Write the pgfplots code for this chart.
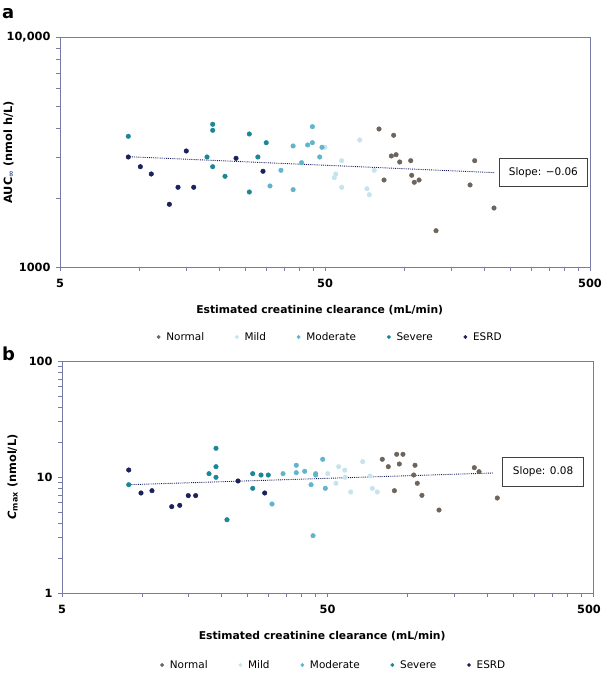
\documentclass[border=0pt]{standalone}
\usepackage{fontspec}
\setmainfont{DejaVu Sans}
\usepackage{pgfplots}
\pgfplotsset{compat=1.18}
\definecolor{axc}{RGB}{118,124,165}
\definecolor{cnorm}{RGB}{110,100,92}
\definecolor{cmild}{RGB}{198,228,238}
\definecolor{cmod}{RGB}{96,180,204}
\definecolor{csev}{RGB}{26,134,150}
\definecolor{cesrd}{RGB}{28,32,92}
\definecolor{cinf}{RGB}{60,80,150}
\newcommand{\lblfont}{\fontsize{11.4}{13.5}\selectfont\bfseries}
\newcommand{\xlblfont}{\fontsize{10.8}{13}\selectfont\bfseries}
\newcommand{\txtfont}{\fontsize{10.5}{12.6}\selectfont}
\begin{document}
\begin{tikzpicture}[x=1bp,y=1bp,font=\txtfont]
\useasboundingbox (0,0) rectangle (602,673);
\node[anchor=base west, font=\bfseries\fontsize{18}{20}\selectfont, inner sep=0] at (2,654) {a};
\node[anchor=base west, font=\bfseries\fontsize{18}{20}\selectfont, inner sep=0] at (2,312) {b};

% ---------------- panel a ----------------
\begin{axis}[at={(60bp,406bp)}, anchor=south west, width=530bp, height=229.5bp,
  scale only axis, xmode=log, ymode=log, xmin=5, xmax=500,
  axis line style={axc, line width=0.9pt},
  xtick={5,50,500}, xticklabels={5,50,500},
  minor xtick={10,15,20,25,30,35,40,45,100,150,200,250,300,350,400,450},
  tick style={axc, line width=0.7pt}, tick align=outside,
  xtick pos=bottom, ytick pos=left,
  major tick length=4bp, minor tick length=4bp,
  ticklabel style={font=\lblfont},
  yticklabel style={xshift=-2bp},
  xticklabel style={yshift=-5bp},
  xlabel={Estimated creatinine clearance (mL/min)},
  xlabel style={font=\xlblfont, at={(axis description cs:0.49,0)}, anchor=center, yshift=-43bp},
  legend style={at={(axis description cs:0.51,0)}, anchor=center, yshift=-70bp, draw=none, fill=none, font=\txtfont,
    /tikz/every odd column/.append style={column sep=4bp},
    /tikz/every even column/.append style={column sep=29bp}},
  legend columns=5,
  legend image post style={mark size=1.7bp},
  ymin=1000, ymax=10000, ytick={1000,10000}, yticklabels={1000,{10,000}},
  minor ytick={2000,3000,4000,5000,6000,7000,8000,9000},
  ylabel={AUC\textsubscript{\textcolor{cinf}{∞}} (nmol h/L)},
  ylabel style={font=\lblfont, at={(axis description cs:-0.097,0.5)}, anchor=center}]
\addplot[only marks, mark=*, mark size=2.3bp, color=cnorm] coordinates {(79.95,3993) (90.8,3749) (89.0,3046) (92.7,3085) (95.7,2867) (105.3,2905) (83.5,2393) (106.2,2509) (108.6,2339) (113.2,2393) (183.6,2905) (176.3,2277) (217.1,1807) (131.2,1439)};
\addlegendentry{Normal}
\addplot[only marks, mark=*, mark size=2.3bp, color=cmild] coordinates {(49.9,3323) (67.6,3576) (57.8,2905) (54.9,2542) (54.2,2449) (57.8,2225) (76.7,2638) (72.0,2194) (73.5,2065)};
\addlegendentry{Mild}
\addplot[only marks, mark=*, mark size=2.3bp, color=cmod] coordinates {(44.8,4086) (37.9,3367) (43.0,3401) (44.8,3480) (48.7,3323) (47.75,3015) (40.8,2847) (34.1,2638) (31.0,2254) (37.9,2172)};
\addlegendentry{Moderate}
\addplot[only marks, mark=*, mark size=2.3bp, color=csev] coordinates {(9.05,3711) (18.85,4186) (18.85,3941) (17.94,3015) (18.85,2735) (20.97,2484) (25.9,3798) (30.0,3480) (27.9,3015) (25.9,2122)};
\addlegendentry{Severe}
\addplot[only marks, mark=*, mark size=2.3bp, color=cesrd] coordinates {(9.05,3015) (10.05,2735) (11.05,2542) (14.98,3202) (13.94,2225) (15.98,2225) (12.93,1876) (23.08,2976) (29.17,2612)};
\addlegendentry{ESRD}
\addplot[forget plot, cesrd, densely dotted, line width=0.9pt] coordinates {(9.05,3024) (219,2576)};
\node[draw=black!75, fill=white, line width=0.8pt, minimum width=88bp, minimum height=28bp, inner sep=2bp, font=\txtfont] at (rel axis cs:0.912,0.411) {Slope: −0.06};
\end{axis}

% ---------------- panel b ----------------
\begin{axis}[at={(62bp,80bp)}, anchor=south west, width=531bp, height=232bp,
  scale only axis, xmode=log, ymode=log, xmin=5, xmax=500,
  axis line style={axc, line width=0.9pt},
  xtick={5,50,500}, xticklabels={5,50,{\hspace{-8bp}500}},
  minor xtick={10,15,20,25,30,35,40,45,100,150,200,250,300,350,400,450},
  tick style={axc, line width=0.7pt}, tick align=outside,
  xtick pos=bottom, ytick pos=left,
  major tick length=4bp, minor tick length=4bp,
  ticklabel style={font=\lblfont},
  yticklabel style={xshift=-2bp},
  xticklabel style={yshift=-5bp},
  xlabel={Estimated creatinine clearance (mL/min)},
  xlabel style={font=\xlblfont, at={(axis description cs:0.49,0)}, anchor=center, yshift=-43bp},
  legend style={at={(axis description cs:0.512,0)}, anchor=center, yshift=-72bp, draw=none, fill=none, font=\txtfont,
    /tikz/every odd column/.append style={column sep=4bp},
    /tikz/every even column/.append style={column sep=29bp}},
  legend columns=5,
  legend image post style={mark size=1.7bp},
  ymin=1, ymax=100, ytick={1,10,100}, yticklabels={1,10,100},
  minor ytick={2,3,4,5,6,7,8,9,20,30,40,50,60,70,80,90},
  ylabel={\textit{C}\textsubscript{max} (nmol/L)},
  ylabel style={font=\lblfont, at={(axis description cs:-0.093,0.5)}, anchor=center}]
\addplot[only marks, mark=*, mark size=2.3bp, color=cnorm] coordinates {(80.4,14.21) (84.7,12.27) (91.1,15.69) (96.2,15.69) (93.2,12.94) (106.8,12.62) (105.6,10.40) (108.9,8.83) (89.3,7.62) (113.4,6.95) (131.5,5.19) (178.6,12.03) (186.1,11.11) (218.0,6.59)};
\addlegendentry{Normal}
\addplot[only marks, mark=*, mark size=2.3bp, color=cmild] coordinates {(50.1,10.68) (55.1,12.27) (58.05,11.46) (58.3,9.94) (53.8,8.83) (61.15,7.43) (67.85,13.55) (72.3,10.20) (73.75,7.99) (77.0,7.43)};
\addlegendentry{Mild}
\addplot[only marks, mark=*, mark size=2.3bp, color=cmod] coordinates {(30.9,5.85) (34.0,10.68) (38.14,12.62) (38.14,10.89) (41.03,11.20) (45.13,10.68) (45.13,10.40) (47.96,14.21) (43.35,8.58) (49.06,7.99) (44.1,3.12)};
\addlegendentry{Moderate}
\addplot[only marks, mark=*, mark size=2.3bp, color=csev] coordinates {(8.92,8.58) (19.01,17.68) (19.01,12.27) (17.89,10.68) (19.01,9.94) (20.91,4.28) (26.14,10.68) (28.09,10.40) (29.92,10.40) (26.14,7.99)};
\addlegendentry{Severe}
\addplot[only marks, mark=*, mark size=2.3bp, color=cesrd] coordinates {(8.92,11.49) (9.92,7.28) (10.91,7.62) (12.95,5.55) (13.88,5.70) (14.95,6.91) (15.94,6.91) (23.01,9.24) (29.0,7.28)};
\addlegendentry{ESRD}
\addplot[forget plot, cesrd, densely dotted, line width=0.9pt] coordinates {(8.92,8.58) (210.6,10.83)};
\node[draw=black!75, fill=white, line width=0.8pt, minimum width=81bp, minimum height=29bp, inner sep=2bp, font=\txtfont] at (rel axis cs:0.906,0.522) {Slope: 0.08};
\end{axis}
\end{tikzpicture}
\end{document}
